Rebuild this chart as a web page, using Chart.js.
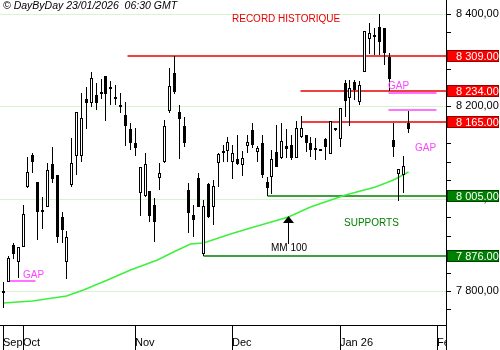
<!DOCTYPE html>
<html>
<head>
<meta charset="utf-8">
<script src="https://cdn.jsdelivr.net/npm/chart.js@4/dist/chart.umd.min.js"></script>
<style>
  html, body { margin: 0; padding: 0; background: #fff; }
</style>
</head>
<body>
<canvas id="chart" width="500" height="350"></canvas>
<script>
// daily candles, 25 Sep -> 22 Jan
const opens  = [7800,7820,7900,7863,7895,8025,8095,8036,7975,7982,8075,8051,7960,7863,8030,8092,8092,8216,8207,8225,8226,8266,8242,8220,8203,8181,8151,8121,8012,8006,8017,7986,8045,8079,8190,8272,8188,8157,8019,7965,8045,7880,8032,7982,8077,8099,8103,8079,8086,8073,8114,8149,8101,8121,8036,8047,8101,8088,8114,8116,8088,8134,8138,8121,8110,8106,8129,8097,8150,8129,8251,8218,8253,8209,8274,8346,8353,8372,8370,8307,8127,8053,8051,8164];
const highs  = [7820,7876,7904,7895,7986,8090,8099,8036,8004,8077,8112,8051,7971,7930,8131,8188,8229,8242,8274,8251,8259,8266,8255,8246,8229,8209,8164,8153,8069,8099,8017,8001,8077,8170,8283,8309,8203,8177,8034,7986,8056,7997,8034,8040,8099,8116,8134,8116,8138,8103,8138,8164,8114,8138,8047,8105,8160,8164,8151,8138,8168,8179,8138,8134,8131,8106,8131,8168,8151,8196,8257,8257,8257,8255,8363,8381,8370,8400,8370,8316,8164,8064,8092,8190];
const lows   = [7763,7821,7869,7828,7895,8023,8056,7910,7934,7982,8034,7904,7904,7826,8025,8051,8079,8151,8199,8192,8216,8168,8203,8203,8186,8114,8105,8092,7962,8004,7949,7906,8019,8077,8186,8227,8086,8112,7926,7917,7982,7876,7958,7943,8025,8079,8079,8043,8073,8049,8099,8110,8079,8045,8006,8010,8069,8086,8088,8084,8088,8131,8101,8090,8084,8104,8084,8097,8147,8112,8177,8157,8214,8203,8274,8313,8311,8311,8290,8233,8090,7995,8012,8142];
const closes = [7796,7872,7880,7895,7967,8058,8079,7971,7972,8062,8043,7917,7932,7917,8077,8188,8175,8207,8261,8207,8228,8227,8238,8216,8199,8157,8121,8110,8069,8075,7962,7949,8056,8157,8244,8231,8173,8121,7969,7954,7982,7984,7960,8027,8097,8103,8123,8099,8075,8088,8123,8116,8110,8051,8023,8086,8069,8125,8107,8088,8153,8153,8121,8105,8105,8104,8112,8168,8148,8196,8212,8240,8235,8246,8363,8359,8351,8340,8316,8259,8112,8064,8071,8151];

// MM 100, read at a few candle positions
const maX = [0, 6, 13, 16.4, 21.3, 26, 31.6, 34.8, 38.3, 41, 46.5, 50.6, 58.4, 62.9, 70.1, 76.2, 79.9, 83];
const maY = [7774, 7779, 7789, 7802, 7824, 7845, 7867, 7884, 7902, 7904, 7924, 7936, 7960, 7982, 8008, 8025, 8040, 8058];

// month separators (candle index of first session) and their labels
const monthStarts = [0, 4, 27, 47, 69, 89];
const monthLabels = ['Sep', 'Oct', 'Nov', 'Dec', 'Jan 26', 'Feb'];

// drawn levels
const resLevels = [8309, 8234, 8165];
const resFrom   = [25.5, 60.8, 61];
const supLevels = [8005, 7876];
const supFrom   = [54, 41];
const gapLevels = [8229, 8192];
const gapFrom = 78.9, gapTo = 88.7;
const gapOld = 7821, gapOldFrom = 1, gapOldTo = 6.6;

const X_MIN = -0.615, X_MAX = 90.78;
const Y_MIN = 7726.3, Y_MAX = 8430.3;

const FONT = '"Liberation Sans", Arial, sans-serif';
const RED = '#e80000', GREEN = '#008000', MAG = '#ff44ff';

const idx = opens.map((_, i) => i);
const isUp = i => closes[i] >= opens[i];

const fmtAxis = v => {
  const s = String(Math.round(v));
  return s.slice(0, -3) + ' ' + s.slice(-3) + ',00';
};
const fmtTag = v => {
  const s = String(Math.round(v));
  return s.slice(0, -3) + ' ' + s.slice(-3) + '.00';
};

const hline = (y0, x0, x1, color, w) => ({
  type: 'line',
  data: [{ x: x0, y: y0 }, { x: x1, y: y0 }],
  borderColor: color,
  borderWidth: w,
  pointRadius: 0,
  order: 4
});

const noPad = s => { s.paddingLeft = 0; s.paddingRight = 0; s.paddingTop = 0; s.paddingBottom = 0; };

// half pixel nudge so 1px wicks and 3px bodies land on whole pixels
const crisp = {
  id: 'crisp',
  beforeDatasetsDraw(chart) { chart.ctx.save(); chart.ctx.translate(0.5, 0); },
  afterDatasetsDraw(chart) { chart.ctx.restore(); }
};

const overlay = {
  id: 'overlay',
  afterDraw(chart) {
    const { ctx, chartArea: a, scales: { x, y } } = chart;
    ctx.save();

    // right axis runs through the date row, last label is cut there
    ctx.fillStyle = '#fff';
    ctx.fillRect(a.right + 1, a.bottom + 1, chart.width - a.right, chart.height - a.bottom);
    ctx.strokeStyle = '#000';
    ctx.lineWidth = 1;
    ctx.beginPath();
    ctx.moveTo(a.right + 0.5, a.bottom);
    ctx.lineTo(a.right + 0.5, chart.height);
    ctx.stroke();

    // header
    ctx.fillStyle = '#000';
    ctx.textBaseline = 'middle';
    ctx.textAlign = 'left';
    ctx.font = 'italic 10.5px ' + FONT;
    ctx.fillText('\u00A9 DayByDay 23/01/2026  06:30 GMT', 3, 6.5);

    // notes
    const notes = [
      { t: 'RECORD HISTORIQUE', i: 46.9, v: 8389, c: RED },
      { t: 'SUPPORTS', i: 69.9, v: 7947, c: GREEN },
      { t: 'MM 100', i: 54.9, v: 7893, c: '#000' },
      { t: 'GAP', i: 78.9, v: 8244, c: MAG },
      { t: 'GAP', i: 84.4, v: 8110, c: MAG },
      { t: 'GAP', i: 4.1, v: 7835, c: MAG }
    ];
    ctx.font = '10px ' + FONT;
    notes.forEach(n => {
      ctx.fillStyle = n.c;
      ctx.fillText(n.t, x.getPixelForValue(n.i), y.getPixelForValue(n.v));
    });

    // arrow pointing at the moving average
    const ax = Math.round(x.getPixelForValue(58.4)) + 0.5;
    const tip = y.getPixelForValue(7962), base = y.getPixelForValue(7947), foot = y.getPixelForValue(7902);
    ctx.fillStyle = '#000';
    ctx.beginPath();
    ctx.moveTo(ax, tip);
    ctx.lineTo(ax - 5.5, base);
    ctx.lineTo(ax + 5.5, base);
    ctx.closePath();
    ctx.fill();
    ctx.beginPath();
    ctx.moveTo(ax, base);
    ctx.lineTo(ax, foot);
    ctx.stroke();

    // price tags on the axis
    const tags = resLevels.map(v => [v, '#ff0000']).concat(supLevels.map(v => [v, GREEN]));
    ctx.font = '11px ' + FONT;
    tags.forEach(([v, col]) => {
      const py = Math.round(y.getPixelForValue(v));
      ctx.fillStyle = col;
      ctx.fillRect(a.right + 1, py - 6, chart.width - a.right - 2, 12);
      ctx.strokeStyle = col === GREEN ? '#004000' : '#990000';
      ctx.strokeRect(a.right + 1.5, py - 5.5, chart.width - a.right - 3, 11);
      ctx.fillStyle = '#fff';
      ctx.fillText(fmtTag(v), a.right + 10, py + 0.5);
    });

    ctx.restore();
  }
};

new Chart(document.getElementById('chart'), {
  type: 'bar',
  data: {
    datasets: [
      {
        type: 'bar',
        data: idx.map(i => ({ x: i, y: [opens[i], closes[i]] })),
        grouped: false,
        barThickness: 3,
        minBarLength: 2,
        inflateAmount: 0,
        backgroundColor: c => isUp(c.dataIndex) ? '#fff' : '#000',
        borderColor: '#000',
        borderWidth: 1,
        borderSkipped: false,
        order: 1
      },
      {
        type: 'bar',
        data: idx.map(i => ({ x: i, y: [lows[i], highs[i]] })),
        grouped: false,
        barThickness: 1,
        inflateAmount: 0,
        backgroundColor: '#000',
        borderWidth: 0,
        order: 2
      },
      {
        type: 'line',
        data: maX.map((v, k) => ({ x: v, y: maY[k] })),
        borderColor: '#3cf03c',
        borderWidth: 1.5,
        pointRadius: 0,
        order: 3
      },
      ...resLevels.map((v, k) => hline(v, resFrom[k], X_MAX, RED, 1.5)),
      ...supLevels.map((v, k) => hline(v, supFrom[k], X_MAX, GREEN, 1.6)),
      ...gapLevels.map(v => hline(v, gapFrom, gapTo, MAG, 1.5)),
      hline(gapOld, gapOldFrom, gapOldTo, MAG, 1.5)
    ]
  },
  options: {
    responsive: false,
    animation: false,
    layout: { padding: 0 },
    plugins: { legend: { display: false }, tooltip: { enabled: false } },
    scales: {
      x: {
        type: 'linear',
        min: X_MIN,
        max: X_MAX,
        offset: false,
        alignToPixels: true,
        afterBuildTicks: s => { s.ticks = monthStarts.map(v => ({ value: v })); },
        afterFit: s => { s.height = 25; noPad(s); },
        grid: { offset: false, drawOnChartArea: false, tickLength: 25, tickColor: '#000' },
        border: { display: true, color: '#000' },
        ticks: {
          autoSkip: false,
          maxRotation: 0,
          align: 'start',
          padding: -14,
          color: '#000',
          font: { family: FONT, size: 11 },
          callback: (v, k) => monthLabels[k]
        }
      },
      y: {
        position: 'right',
        min: Y_MIN,
        max: Y_MAX,
        alignToPixels: true,
        afterFit: s => { s.width = 54; noPad(s); },
        grid: {
          color: c => c.tick && c.tick.value % 200 === 0 ? '#d8f3d0' : 'rgba(0,0,0,0)',
          tickColor: '#000',
          tickLength: 5
        },
        border: { display: true, color: '#000' },
        ticks: {
          stepSize: 40,
          includeBounds: false,
          autoSkip: false,
          padding: 5,
          color: '#000',
          font: { family: FONT, size: 11 },
          callback: v => v % 200 === 0 ? fmtAxis(v) : ''
        }
      }
    }
  },
  plugins: [crisp, overlay]
});
</script>
</body>
</html>
